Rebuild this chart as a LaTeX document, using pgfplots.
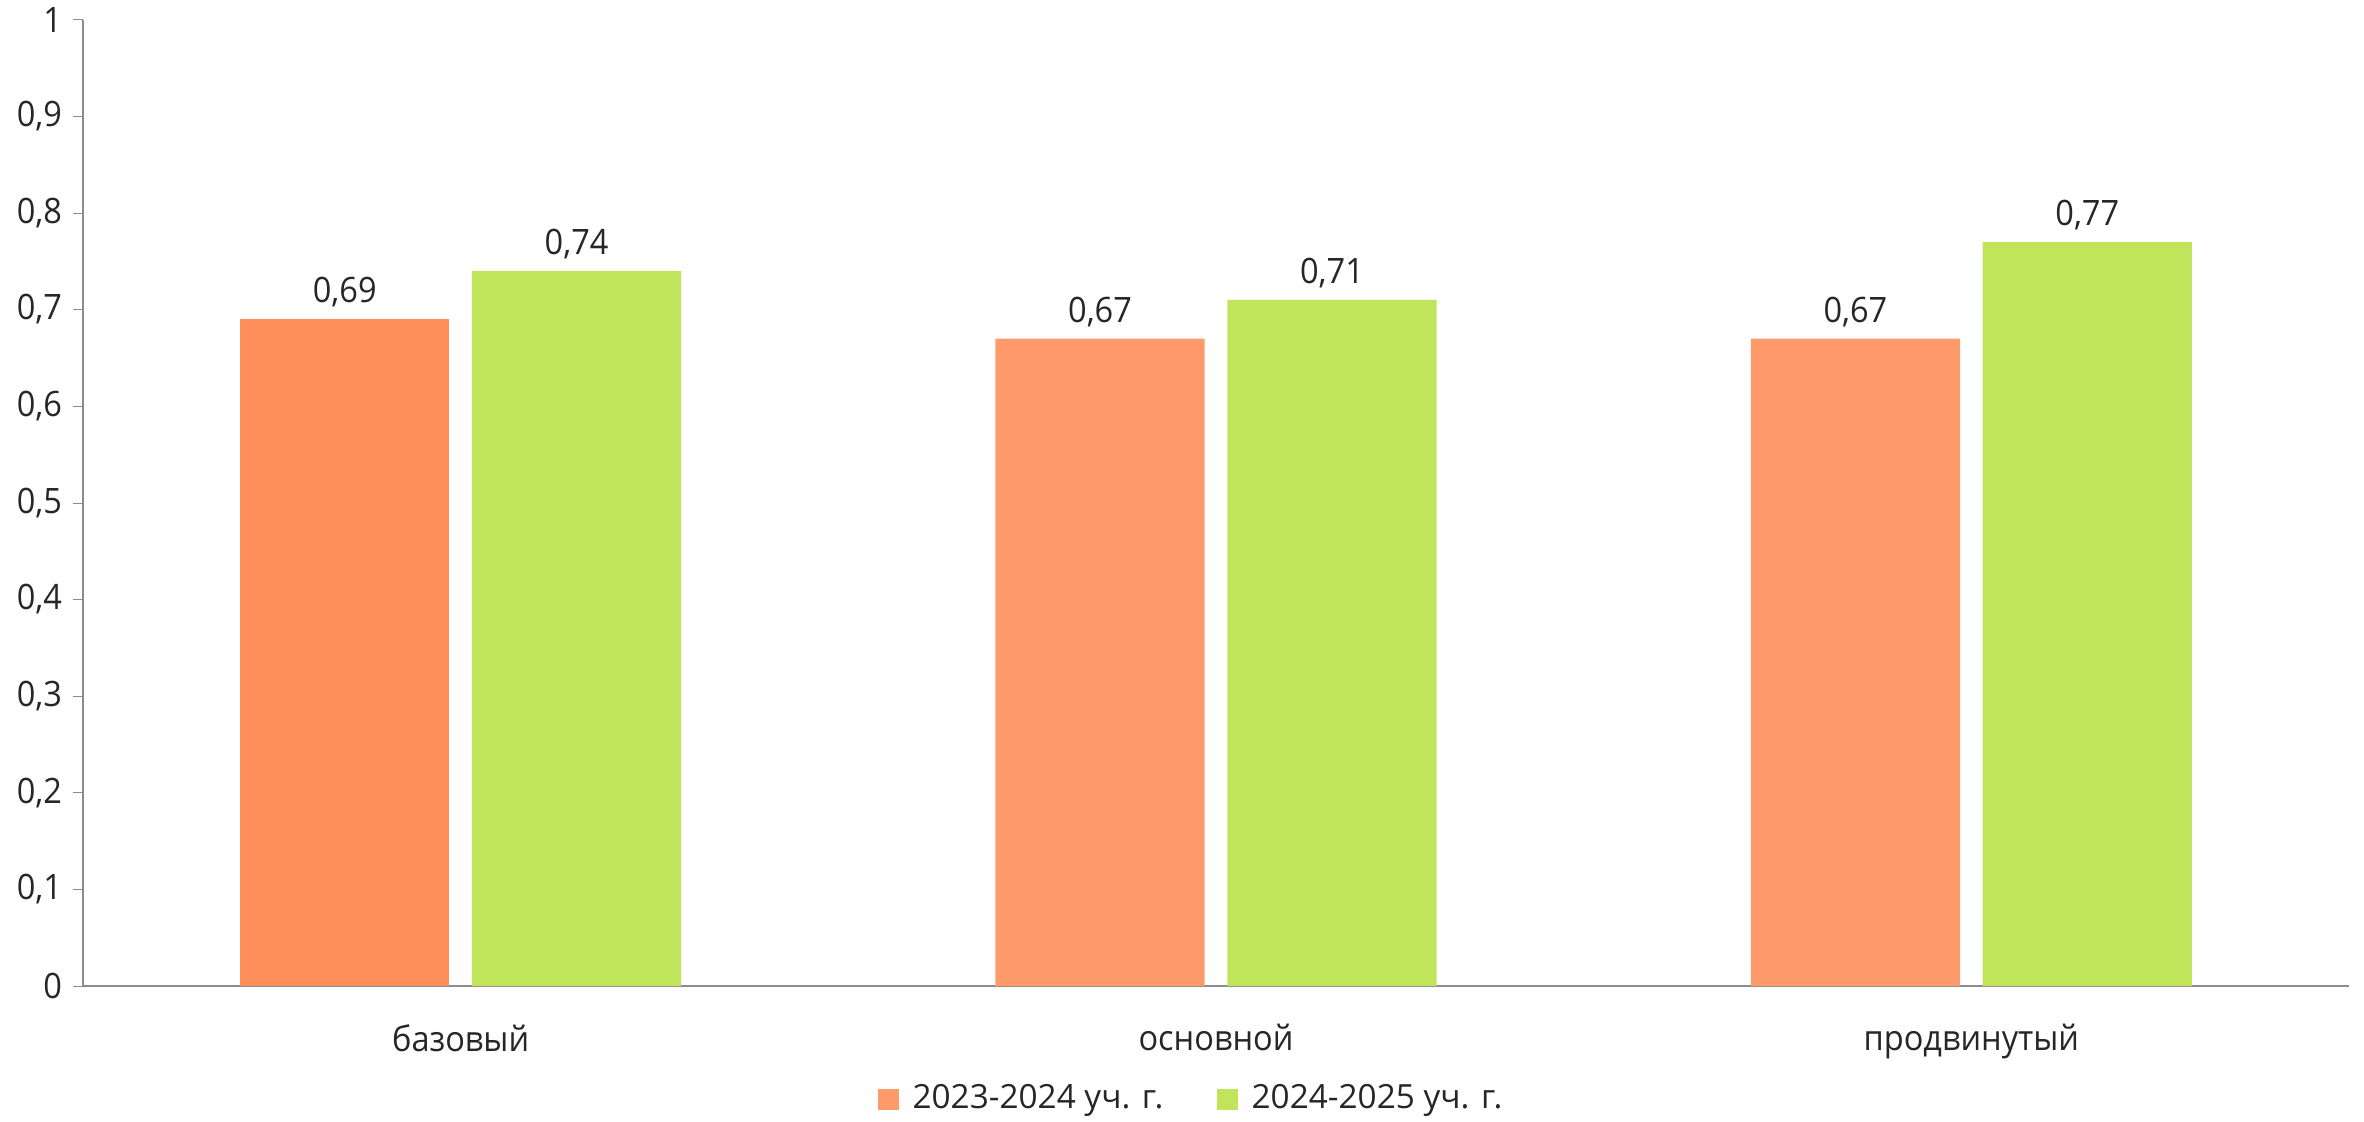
\documentclass[border=0pt]{standalone}
\usepackage{pgfplots}
\pgfplotsset{compat=1.18}
\usepackage{fontspec}
\setmainfont{Open Sans}
\definecolor{orA}{HTML}{FF8F5A}
\definecolor{orB}{HTML}{FF9B6B}
\definecolor{grn}{HTML}{C0E55A}
\definecolor{axgray}{HTML}{8C8C8C}
\definecolor{txt}{HTML}{262626}
\begin{document}
\begin{tikzpicture}
\path[use as bounding box] (-24.9pt,-40.5pt) rectangle (684.5pt,295.9pt);
\begin{axis}[
  at={(0pt,0pt)}, anchor=south west,
  scale only axis, width=680pt, height=290pt,
  font=\fontsize{10.5pt}{12pt}\selectfont,
  xmin=-0.5, xmax=2.5, ymin=0, ymax=1,
  axis lines=left, axis line style={draw=axgray, -},
  ybar, bar width=0.277,
  ytick={0,0.1,...,1.0},
  yticklabel style={text=txt, xscale=0.93, /pgf/number format/.cd, use comma, fixed, precision=1, assume math mode=true},
  y tick style={draw=axgray}, tick align=outside,
  major tick length=3pt,
  xtick={0,1,2},
  xticklabels={базовый, основной, продвинутый},
  xticklabel style={text=txt, xscale=0.93, yshift=-5pt},
  x tick style={draw=none},
  extra x ticks={-0.5,0.5,1.5,2.5},
  extra x tick labels={},
  extra x tick style={major tick length=3.6pt, tick style={draw=axgray}},
  nodes near coords,
  nodes near coords style={text=txt, xscale=0.93, font=\fontsize{10.5pt}{12pt}\selectfont, /pgf/number format/.cd, use comma, fixed, fixed zerofill, precision=2, assume math mode=true},
  legend style={at={(0.49,-0.117)}, anchor=center, draw=none, fill=none, legend columns=2, font=\fontsize{10pt}{12pt}\selectfont, text=txt,
    /tikz/every even column/.append style={column sep=14pt}},
  legend cell align=left,
]
\addplot[fill=orA, draw=none, bar shift=-0.1535, forget plot] coordinates {(0,0.69)};
\addplot[fill=orB, draw=none, bar shift=-0.1535,
  legend image code/.code={\fill[orB] (0pt,-3.3pt) rectangle (6.3pt,3.0pt); \path (0pt,0pt) -- (8.5pt,0pt);}] coordinates {(1,0.67) (2,0.67)};
\addplot[fill=grn, draw=none, bar shift=0.1535,
  legend image code/.code={\fill[grn] (0pt,-3.3pt) rectangle (6.3pt,3.0pt); \path (0pt,0pt) -- (8.5pt,0pt);}] coordinates {(0,0.74) (1,0.71) (2,0.77)};
\legend{2023-2024 уч. г., 2024-2025 уч. г.}
\end{axis}
\end{tikzpicture}
\end{document}
